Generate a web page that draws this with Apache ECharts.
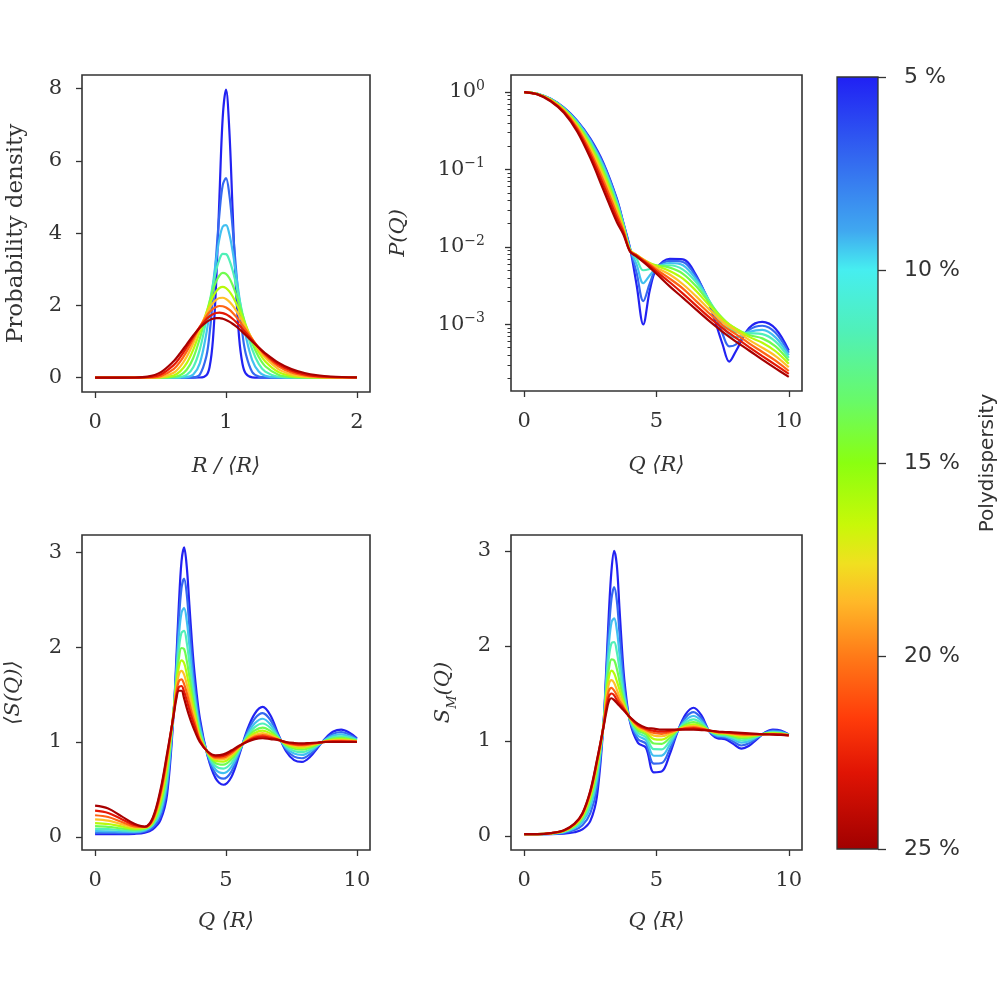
<!DOCTYPE html>
<html><head><meta charset="utf-8">
<script src="https://cdn.jsdelivr.net/npm/echarts@6/dist/echarts.min.js"></script>
<style>html,body{margin:0;padding:0;background:#fff}#c{width:1000px;height:1000px}</style>
</head><body><div id="c"></div>
<script>
// ---------- data ----------
const polydispersity = [5, 7.2, 9.4, 11.7, 13.9, 16.1, 18.3, 20.6, 22.8, 25];
const colorbarTicks = [5, 10, 15, 20, 25];
const densityTicksX = [0, 1, 2];
const densityTicksY = [0, 2, 4, 6, 8];
const qTicks = [0, 5, 10];
const formTicks = [1e-3, 1e-2, 1e-1, 1];
const formMinorTicks = [2e-4,3e-4,4e-4,5e-4,6e-4,7e-4,8e-4,9e-4,2e-3,3e-3,4e-3,5e-3,6e-3,7e-3,8e-3,9e-3,2e-2,3e-2,4e-2,5e-2,6e-2,7e-2,8e-2,9e-2,0.2,0.3,0.4,0.5,0.6,0.7,0.8,0.9];
const sTicks = [0, 1, 2, 3];

// Panel 1: probability density vs R/<R>
const densityR = [0, 0.3, 0.4, 0.5, 0.6, 0.65, 0.7, 0.75, 0.8, 0.85, 0.875, 0.9, 0.925, 0.95, 0.975, 1, 1.025, 1.05, 1.075, 1.1, 1.125, 1.15, 1.2, 1.25, 1.3, 1.4, 1.5, 1.6, 1.7, 1.8, 2];
const density = [
  [0,0,0,0,0,0,0,0,0.001,0.063,0.301,1.039,2.640,5.013,7.207,7.979,6.884,4.684,2.542,1.112,0.395,0.116,0.006,0,0,0,0,0,0,0,0],
  [0,0,0,0,0,0,0.0002,0.005,0.082,0.589,1.230,2.197,3.386,4.541,5.331,5.524,5.081,4.172,3.075,2.043,1.231,0.675,0.155,0.026,0.003,0,0,0,0,0,0],
  [0,0,0,0,0,0.0008,0.011,0.083,0.395,1.221,1.855,2.573,3.277,3.848,4.181,4.224,3.982,3.512,2.910,2.270,1.672,1.165,0.485,0.166,0.048,0.002,0,0,0,0,0],
  [0,0,0,0,0.002,0.014,0.076,0.286,0.781,1.603,2.088,2.562,2.974,3.274,3.426,3.419,3.261,2.979,2.613,2.202,1.789,1.401,0.778,0.380,0.166,0.023,0.002,0,0,0,0],
  [0,0,0,0.0003,0.015,0.067,0.217,0.543,1.082,1.766,2.109,2.417,2.664,2.828,2.897,2.872,2.758,2.569,2.325,2.047,1.756,1.469,0.957,0.571,0.314,0.076,0.014,0.002,0,0,0],
  [0,0,0,0.003,0.058,0.170,0.398,0.773,1.269,1.798,2.037,2.238,2.388,2.480,2.509,2.476,2.387,2.251,2.077,1.879,1.667,1.451,1.044,0.704,0.447,0.153,0.043,0.010,0.002,0,0],
  [0,0,0.0004,0.014,0.134,0.303,0.576,0.946,1.367,1.764,1.930,2.061,2.154,2.204,2.211,2.176,2.104,1.999,1.869,1.721,1.561,1.395,1.072,0.783,0.546,0.235,0.087,0.028,0.008,0.002,0],
  [0,0,0.003,0.040,0.235,0.441,0.725,1.061,1.403,1.698,1.813,1.900,1.956,1.982,1.976,1.941,1.880,1.796,1.695,1.579,1.454,1.325,1.064,0.822,0.613,0.308,0.138,0.056,0.021,0.007,0.001],
  [0,0.0004,0.010,0.085,0.345,0.568,0.839,1.130,1.401,1.618,1.698,1.755,1.788,1.798,1.785,1.751,1.698,1.629,1.547,1.454,1.354,1.250,1.038,0.835,0.652,0.368,0.189,0.089,0.039,0.016,0.002],
  [0,0.002,0.025,0.145,0.452,0.674,0.921,1.164,1.378,1.537,1.591,1.628,1.646,1.646,1.629,1.596,1.549,1.491,1.422,1.346,1.264,1.178,1.002,0.831,0.672,0.413,0.234,0.125,0.063,0.030,0.006]
];

// Panel 2: form factor P(Q)
const formQ = [0, 0.5, 1, 1.5, 2, 2.5, 3, 3.5, 3.75, 4, 4.25, 4.5, 4.75, 5, 5.5, 6, 6.5, 7, 7.5, 7.75, 8, 8.5, 9, 9.5, 10];
const formFactor = [
  [1,0.951,0.817,0.628,0.427,0.250,0.120,0.0420,0.0203,0.0096,0.0032,0.0010,0.0028,0.0052,0.0070,0.0069,0.0043,0.0018,0.00055,0.00033,0.00045,0.0009,0.00108,0.00088,0.00046],
  [1,0.950,0.814,0.624,0.421,0.244,0.1158,0.0407,0.0200,0.0095,0.0046,0.0020,0.0034,0.0053,0.0066,0.0064,0.0041,0.00195,0.00075,0.00052,0.00055,0.00085,0.00096,0.00078,0.00043],
  [1,0.949,0.811,0.618,0.413,0.235,0.1102,0.0390,0.0196,0.0094,0.0059,0.0034,0.0043,0.0054,0.0062,0.0058,0.0038,0.0020,0.00095,0.00075,0.00068,0.0008,0.00085,0.00068,0.0004],
  [1,0.947,0.806,0.611,0.402,0.225,0.1035,0.0369,0.0191,0.0093,0.0070,0.0050,0.0052,0.0056,0.0058,0.0051,0.0035,0.0020,0.0011,0.0009,0.0008,0.00077,0.00075,0.0006,0.00037],
  [1,0.946,0.801,0.602,0.390,0.213,0.0960,0.0346,0.0185,0.0092,0.0077,0.0066,0.0060,0.0058,0.0054,0.0045,0.0031,0.0019,0.0012,0.001,0.00088,0.00073,0.00066,0.00052,0.00034],
  [1,0.944,0.794,0.592,0.377,0.199,0.0879,0.0321,0.0178,0.0091,0.0079,0.0069,0.0062,0.0057,0.0049,0.0039,0.0027,0.00175,0.00117,0.001,0.00088,0.00069,0.00058,0.00045,0.00031],
  [1,0.941,0.787,0.581,0.361,0.185,0.0792,0.0293,0.0170,0.0090,0.0079,0.0069,0.0061,0.0054,0.0044,0.0033,0.0023,0.00155,0.00108,0.00094,0.00083,0.00063,0.0005,0.00039,0.00028],
  [1,0.938,0.779,0.568,0.345,0.170,0.0707,0.0265,0.0162,0.0089,0.0078,0.0068,0.0059,0.0051,0.0039,0.0029,0.0020,0.00138,0.00098,0.00085,0.00075,0.00057,0.00044,0.00034,0.00025],
  [1,0.935,0.770,0.555,0.328,0.155,0.0622,0.0237,0.0154,0.0088,0.0077,0.0066,0.0057,0.0048,0.0035,0.0025,0.00175,0.00123,0.00089,0.00077,0.00067,0.00051,0.00039,0.0003,0.00023],
  [1,0.932,0.760,0.540,0.310,0.140,0.054,0.0210,0.0145,0.0087,0.0075,0.0064,0.0054,0.0045,0.0031,0.0022,0.00155,0.0011,0.0008,0.00069,0.0006,0.00046,0.00035,0.00027,0.00021]
];

// Panels 3 and 4: structure factors
const structQ = [0, 0.5, 1, 1.5, 1.9, 2.2, 2.5, 2.75, 3, 3.1, 3.2, 3.3, 3.4, 3.5, 3.6, 3.7, 3.8, 4, 4.3, 4.6, 4.9, 5.2, 5.5, 5.8, 6.1, 6.4, 6.7, 7, 7.3, 7.6, 7.9, 8.2, 8.5, 8.8, 9.1, 9.4, 9.7, 10];
const avgStructure = [
  [0.03,0.03,0.03,0.033,0.045,0.08,0.18,0.45, 1.3,1.85,2.45,2.9,3.05,2.85,2.45,2.05,1.72, 1.25, 0.85,0.62,0.55,0.63,0.86,1.12,1.30,1.37,1.28,1.08,0.9,0.81,0.79,0.84,0.94,1.04,1.11,1.13,1.10,1.04],
  [0.044,0.043,0.041,0.043,0.058,0.1,0.22,0.52, 1.32,1.78,2.28,2.62,2.72,2.56,2.22,1.88,1.6, 1.2, 0.86,0.668,0.614,0.686,0.88,1.096,1.246,1.304,1.23,1.068,0.92,0.846,0.829,0.87,0.951,1.032,1.088,1.104,1.08,1.032],
  [0.062,0.06,0.055,0.054,0.07,0.12,0.26,0.58, 1.33,1.72,2.12,2.36,2.41,2.28,2.02,1.74,1.5, 1.155, 0.869,0.711,0.672,0.736,0.898,1.074,1.197,1.245,1.185,1.057,0.938,0.878,0.864,0.897,0.961,1.025,1.068,1.081,1.062,1.025],
  [0.086,0.082,0.071,0.065,0.08,0.13,0.30,0.64, 1.33,1.67,1.98,2.15,2.17,2.05,1.84,1.62,1.43, 1.118, 0.877,0.747,0.72,0.778,0.913,1.056,1.157,1.195,1.148,1.048,0.953,0.905,0.893,0.92,0.969,1.019,1.052,1.061,1.047,1.019],
  [0.114,0.107,0.09,0.077,0.089,0.14,0.34,0.70, 1.33,1.63,1.88,1.99,1.98,1.86,1.69,1.52,1.36, 1.085, 0.883,0.778,0.761,0.815,0.926,1.041,1.122,1.152,1.115,1.04,0.966,0.929,0.919,0.939,0.976,1.014,1.037,1.044,1.034,1.014],
  [0.147,0.137,0.111,0.088,0.096,0.155,0.38,0.75, 1.32,1.59,1.79,1.86,1.83,1.72,1.58,1.44,1.31, 1.06, 0.888,0.802,0.793,0.843,0.936,1.029,1.095,1.119,1.09,1.034,0.976,0.947,0.938,0.954,0.982,1.01,1.026,1.031,1.024,1.01],
  [0.186,0.172,0.135,0.1,0.101,0.165,0.42,0.79, 1.31,1.55,1.71,1.75,1.71,1.61,1.49,1.37,1.26, 1.04, 0.892,0.822,0.819,0.865,0.944,1.019,1.073,1.093,1.07,1.03,0.984,0.961,0.954,0.966,0.986,1.006,1.018,1.021,1.016,1.006],
  [0.229,0.21,0.16,0.112,0.105,0.175,0.45,0.83, 1.30,1.52,1.64,1.66,1.61,1.52,1.41,1.30,1.21, 1.025, 0.895,0.836,0.838,0.882,0.95,1.012,1.057,1.073,1.055,1.026,0.99,0.972,0.966,0.975,0.99,1.004,1.011,1.013,1.01,1.004],
  [0.277,0.253,0.19,0.126,0.108,0.19,0.48,0.86, 1.29,1.48,1.58,1.59,1.53,1.44,1.34,1.25,1.17, 1.0125, 0.8975,0.848,0.854,0.896,0.955,1.006,1.044,1.057,1.043,1.023,0.995,0.981,0.975,0.983,0.992,1.002,1.006,1.007,1.005,1.002],
  [0.33,0.30,0.22,0.14,0.11,0.2,0.5,0.88, 1.28,1.45,1.54,1.54,1.46,1.36,1.27,1.19,1.12, 1.0, 0.9,0.86,0.87,0.91,0.96,1.0,1.03,1.04,1.03,1.02,1.0,0.99,0.985,0.99,0.995,1.0,1.0,1.0,1.0,1.0]
];
const measuredStructure = [
  [0.02,0.02,0.02,0.025,0.04,0.07,0.16,0.42, 1.2,1.75,2.35,2.8,3.0,2.85,2.4,1.95,1.6, 1.2, 0.98,0.93,0.67,0.68,0.86,1.1,1.28,1.35,1.27,1.1,1.03,1.02,0.97,0.92,0.95,1.02,1.09,1.12,1.11,1.07],
  [0.02,0.02,0.022,0.034,0.063,0.113,0.24,0.515, 1.2,1.68,2.17,2.5,2.62,2.48,2.14,1.8,1.52, 1.21, 1.02,0.972,0.762,0.768,0.912,1.104,1.248,1.304,1.239,1.102,1.044,1.035,0.994,0.953,0.976,1.031,1.086,1.11,1.101,1.068],
  [0.02,0.02,0.024,0.041,0.081,0.147,0.304,0.591, 1.19,1.62,2.02,2.25,2.29,2.17,1.92,1.66,1.46, 1.219, 1.056,1.01,0.845,0.847,0.959,1.108,1.219,1.263,1.211,1.104,1.057,1.049,1.016,0.983,0.999,1.041,1.082,1.1,1.093,1.066],
  [0.02,0.02,0.026,0.046,0.094,0.172,0.352,0.648, 1.18,1.57,1.88,2.03,2.04,1.94,1.76,1.57,1.42, 1.2265, 1.086,1.041,0.914,0.913,0.998,1.111,1.195,1.228,1.188,1.105,1.067,1.06,1.034,1.007,1.019,1.049,1.079,1.092,1.086,1.065],
  [0.02,0.02,0.027,0.05,0.105,0.192,0.39,0.694, 1.18,1.52,1.76,1.86,1.85,1.76,1.63,1.5,1.39, 1.233, 1.112,1.069,0.974,0.97,1.032,1.113,1.174,1.198,1.168,1.107,1.076,1.07,1.049,1.029,1.036,1.056,1.077,1.086,1.08,1.063],
  [0.02,0.02,0.028,0.053,0.113,0.208,0.419,0.728, 1.17,1.47,1.67,1.74,1.71,1.63,1.54,1.45,1.37, 1.238, 1.132,1.09,1.02,1.014,1.058,1.115,1.158,1.175,1.152,1.108,1.083,1.077,1.061,1.045,1.049,1.062,1.075,1.08,1.076,1.062],
  [0.02,0.02,0.029,0.056,0.119,0.22,0.442,0.754, 1.17,1.43,1.6,1.64,1.61,1.54,1.47,1.41,1.35, 1.242, 1.148,1.106,1.056,1.05,1.078,1.117,1.146,1.157,1.14,1.108,1.089,1.083,1.071,1.059,1.059,1.066,1.073,1.076,1.073,1.062],
  [0.02,0.02,0.029,0.058,0.124,0.228,0.458,0.773, 1.16,1.39,1.53,1.56,1.53,1.48,1.42,1.38,1.33, 1.245, 1.16,1.119,1.084,1.076,1.094,1.118,1.136,1.143,1.131,1.109,1.093,1.088,1.078,1.069,1.067,1.07,1.072,1.073,1.071,1.061],
  [0.02,0.02,0.03,0.059,0.127,0.235,0.47,0.789, 1.16,1.34,1.47,1.5,1.48,1.43,1.39,1.36,1.32, 1.2475, 1.17,1.13,1.107,1.098,1.107,1.119,1.128,1.132,1.123,1.11,1.097,1.091,1.084,1.077,1.074,1.072,1.071,1.071,1.068,1.06],
  [0.02,0.02,0.03,0.06,0.13,0.24,0.48,0.8, 1.15,1.3,1.42,1.45,1.43,1.4,1.37,1.34,1.31, 1.25, 1.18,1.14,1.13,1.12,1.12,1.12,1.12,1.12,1.115,1.11,1.1,1.095,1.09,1.085,1.08,1.075,1.07,1.068,1.065,1.06]
];

// ---------- styles ----------
const curveColors = ['#2222f2','#3468f0','#42c0f0','#50f0b8','#70fc50','#b8fa0a','#ffc028','#ff6414','#e41805','#a80000'];
const colormapStops = [
  [0,'#2020f4'],[0.1,'#3264f0'],[0.2,'#40a8f0'],[0.25,'#46eef0'],[0.33,'#50f0b8'],[0.42,'#68fa68'],
  [0.5,'#8aff10'],[0.58,'#c8f808'],[0.63,'#f0e020'],[0.68,'#ffb828'],[0.75,'#ff7a18'],[0.83,'#ff3c0a'],
  [0.9,'#e01404'],[1,'#a00000']
];
const INK = '#333';
const SERIF = 'DejaVu Serif';
const SANS = 'DejaVu Sans';

const chart = echarts.init(document.getElementById('c'), null, {renderer: 'canvas'});

const gridBox = {show: true, borderColor: INK, borderWidth: 1.6, backgroundColor: 'transparent'};
const grids = [
  Object.assign({left: 82, top: 75, width: 288, height: 317}, gridBox),
  Object.assign({left: 511, top: 75, width: 291, height: 316}, gridBox),
  Object.assign({left: 82, top: 535, width: 288, height: 315}, gridBox),
  Object.assign({left: 511, top: 535, width: 291, height: 315}, gridBox),
  {left: 837, top: 77, width: 41, height: 772, show: false}
];

function tickStyle(len) { return {show: true, inside: false, length: len, lineStyle: {color: INK, width: 1.3}}; }
const noLine = {show: false, onZero: false};
const labelBase = {color: INK, fontFamily: SERIF, fontSize: 21};
const nameBase = {color: INK, fontFamily: SERIF, fontSize: 21, fontStyle: 'italic'};

function xAxis(grid, min, max, ticks, name, gap) {
  const t = tickStyle(6); t.customValues = ticks;
  return {type: 'value', gridIndex: grid, min: min, max: max, position: 'bottom',
    axisLine: noLine, splitLine: {show: false}, axisTick: t,
    axisLabel: Object.assign({customValues: ticks, margin: 20}, labelBase),
    name: name, nameLocation: 'middle', nameGap: gap, nameTextStyle: nameBase};
}
function yAxis(grid, min, max, ticks, name, gap, nameStyle, margin) {
  const t = tickStyle(6); t.customValues = ticks;
  return {type: 'value', gridIndex: grid, min: min, max: max, position: 'left',
    axisLine: noLine, splitLine: {show: false}, axisTick: t,
    axisLabel: Object.assign({customValues: ticks, margin: margin}, labelBase),
    name: name, nameLocation: 'middle', nameGap: gap, nameRotate: 90, nameTextStyle: nameStyle};
}

const logMin = Math.pow(10, -3.86), logMax = Math.pow(10, 0.22);
const majorTick = tickStyle(6); majorTick.customValues = formTicks;
// minor ticks: a second log axis with the same scale on the left frame edge
const minorTick = {show: true, inside: false, length: 3.5, customValues: formMinorTicks, lineStyle: {color: INK, width: 1}};

const xAxes = [
  xAxis(0, -0.1, 2.1, densityTicksX, 'R / ⟨R⟩', 64),
  xAxis(1, -0.5, 10.5, qTicks, 'Q ⟨R⟩', 64),
  xAxis(2, -0.5, 10.5, qTicks, 'Q ⟨R⟩', 61),
  xAxis(3, -0.5, 10.5, qTicks, 'Q ⟨R⟩', 61),
  {type: 'value', gridIndex: 4, min: 0, max: 1, show: false}
];
const yAxes = [
  yAxis(0, -0.4, 8.38, densityTicksY, 'Probability density', 54, Object.assign({}, nameBase, {fontStyle: 'normal', fontSize: 23}), 20),
  {type: 'log', gridIndex: 1, min: logMin, max: logMax, logBase: 10, position: 'left',
    axisLine: noLine, splitLine: {show: false}, axisTick: majorTick,
    axisLabel: Object.assign({customValues: formTicks, margin: 26, lineHeight: 26,
      formatter: function (v) { const e = Math.round(Math.log10(v)); return '10{e|' + (e < 0 ? '\u2212' + (-e) : e) + '}'; },
      rich: {e: {fontFamily: SERIF, fontSize: 14, color: INK, verticalAlign: 'top', lineHeight: 14}}}, labelBase),
    name: 'P(Q)', nameLocation: 'middle', nameGap: 102, nameRotate: 90, nameTextStyle: nameBase},
  {type: 'log', gridIndex: 1, min: logMin, max: logMax, logBase: 10, position: 'left', offset: 0,
    axisLine: noLine, splitLine: {show: false}, axisTick: minorTick,
    axisLabel: {show: true, customValues: formMinorTicks, formatter: function () { return ''; }}},
  yAxis(2, -0.137, 3.18, sTicks, '⟨S(Q)⟩', 58, nameBase, 20),
  yAxis(3, -0.147, 3.168, sTicks, '{i|S}{s|M}{i|(Q)}', 52,
    Object.assign({}, nameBase, {rich: {i: {fontFamily: SERIF, fontSize: 21, fontStyle: 'italic', color: INK},
      s: {fontFamily: SERIF, fontSize: 13, fontStyle: 'italic', color: INK, verticalAlign: 'bottom', lineHeight: 30}}}), 20),
  {type: 'value', gridIndex: 4, min: polydispersity[0], max: polydispersity[polydispersity.length - 1], inverse: true, position: 'right',
    axisLine: noLine, splitLine: {show: false},
    axisTick: Object.assign(tickStyle(8), {customValues: colorbarTicks}),
    axisLabel: {customValues: colorbarTicks, margin: 26, color: INK, fontFamily: SANS, fontSize: 22, formatter: function (v) { return v + ' %'; }},
    name: 'Polydispersity', nameLocation: 'middle', nameGap: 100, nameRotate: 90,
    nameTextStyle: {color: INK, fontFamily: SANS, fontSize: 20}}
];

const series = [];
function addPanel(xIdx, yIdx, xs, curves) {
  curves.forEach(function (ys, k) {
    series.push({type: 'line', xAxisIndex: xIdx, yAxisIndex: yIdx, showSymbol: false, smooth: 0.35,
      data: xs.map(function (x, j) { return [x, ys[j]]; }),
      lineStyle: {width: 2.2, color: curveColors[k]}, itemStyle: {color: curveColors[k]}, z: 2 + k * 0.01, silent: true});
  });
}
addPanel(0, 0, densityR, density);
addPanel(1, 1, formQ, formFactor);
addPanel(2, 3, structQ, avgStructure);
addPanel(3, 4, structQ, measuredStructure);

series.push({type: 'custom', xAxisIndex: 4, yAxisIndex: 5, clip: false, silent: true,
  data: [[0, polydispersity[0], 1, polydispersity[polydispersity.length - 1]]],
  encode: {x: [0, 2], y: [1, 3]},
  renderItem: function (params, api) {
    const a = api.coord([api.value(0), api.value(1)]);
    const b = api.coord([api.value(2), api.value(3)]);
    return {type: 'rect', shape: {x: a[0], y: a[1], width: b[0] - a[0], height: b[1] - a[1]},
      style: {fill: new echarts.graphic.LinearGradient(0, 0, 0, 1, colormapStops.map(function (s) { return {offset: s[0], color: s[1]}; })),
        stroke: INK, lineWidth: 1.3}};
  }});

chart.setOption({animation: false, backgroundColor: '#fff', grid: grids, xAxis: xAxes, yAxis: yAxes, series: series});
</script>
</body></html>
